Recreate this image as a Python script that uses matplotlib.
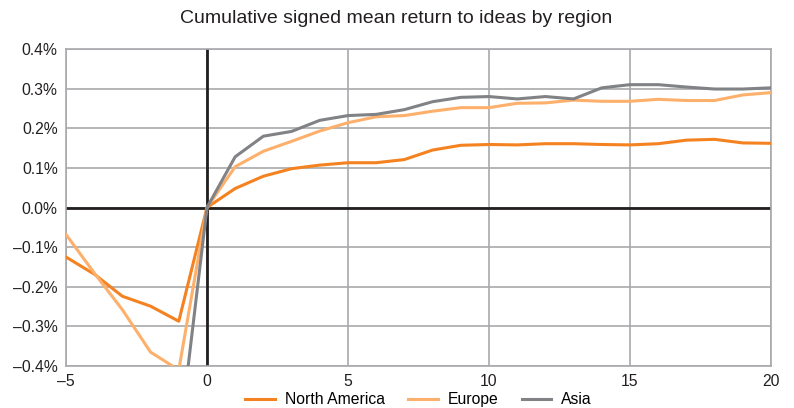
import matplotlib
matplotlib.use("Agg")
import matplotlib.pyplot as plt
from matplotlib.ticker import FuncFormatter

# days relative to idea publication
days = list(range(-5, 21))

# cumulative signed mean return, in percent
north_america = [-0.125, -0.168, -0.224, -0.249, -0.287, 0.0,
                 0.048, 0.079, 0.098, 0.107, 0.113, 0.113, 0.121, 0.145, 0.157, 0.159,
                 0.158, 0.161, 0.161, 0.159, 0.158, 0.161, 0.170, 0.172, 0.163, 0.162]
europe = [-0.068, -0.165, -0.258, -0.365, -0.410, 0.0,
          0.103, 0.142, 0.167, 0.193, 0.214, 0.229, 0.232, 0.243, 0.252, 0.252,
          0.263, 0.264, 0.271, 0.268, 0.268, 0.273, 0.270, 0.270, 0.284, 0.290]
asia = [-0.90, -0.85, -0.80, -0.75, -0.60, 0.0,
        0.128, 0.180, 0.192, 0.220, 0.232, 0.235, 0.247, 0.267, 0.278, 0.280,
        0.274, 0.280, 0.274, 0.302, 0.310, 0.310, 0.304, 0.299, 0.299, 0.302]

series = [("North America", north_america, "#f58220"),
          ("Europe", europe, "#fdb06b"),
          ("Asia", asia, "#808285")]

plt.rcParams['font.family'] = ['Liberation Sans', 'DejaVu Sans']

fig = plt.figure(figsize=(7.94, 4.08), dpi=100)
ax = fig.add_axes([0.0831, 0.1029, 0.8879, 0.777])

for name, vals, col in series:
    ax.plot(days, vals, color=col, lw=2.2, label=name, zorder=3)

ax.set_xlim(-5, 20)
ax.set_ylim(-0.4, 0.4)
ax.set_xticks([-5, 0, 5, 10, 15, 20])
ax.set_yticks([-0.4, -0.3, -0.2, -0.1, 0.0, 0.1, 0.2, 0.3, 0.4])
ax.yaxis.set_major_formatter(FuncFormatter(lambda v, p: ("%.1f%%" % v).replace("-", "\u2013")))
ax.xaxis.set_major_formatter(FuncFormatter(lambda v, p: ("%d" % v).replace("-", "\u2013")))
ax.grid(True, color="#a7a9ac", lw=1.2, zorder=0)
ax.axhline(0, color="#231f20", lw=2, zorder=2)
ax.axvline(0, color="#231f20", lw=2, zorder=2)
for s in ax.spines.values():
    s.set_color("#a7a9ac")
    s.set_linewidth(1.2)
ax.tick_params(length=0, labelsize=11.3, colors="#231f20", pad=6)

fig.text(0.4987, 0.955, "Cumulative signed mean return to ideas by region", fontsize=14,
         color="#231f20", ha="center", va="center")
fig.legend(*ax.get_legend_handles_labels(), loc="lower center", bbox_to_anchor=(0.527, 0.002),
           ncol=3, frameon=False, fontsize=11.3, handlelength=1.9, handletextpad=0.6,
           columnspacing=1.5, borderpad=0.0, borderaxespad=0)

fig.savefig("out.png", dpi=100)
